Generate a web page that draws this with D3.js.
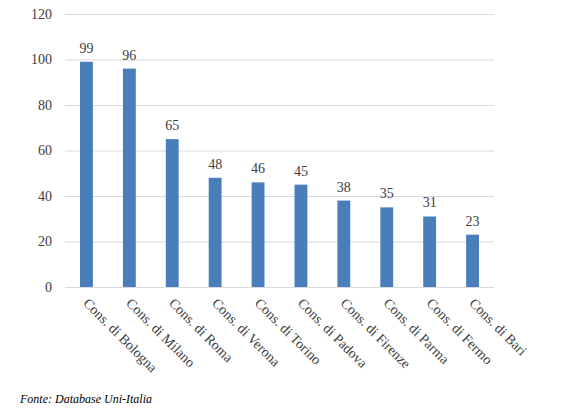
<!DOCTYPE html>
<html><head><meta charset="utf-8">
<script src="https://cdn.jsdelivr.net/npm/d3@7"></script>
<style>body{margin:0;background:#fff}svg{display:block}</style>
</head><body><svg id="c" width="586" height="413"></svg>
<script>
const categories = ["Cons. di Bologna","Cons. di Milano","Cons. di Roma","Cons. di Verona","Cons. di Torino","Cons. di Padova","Cons. di Firenze","Cons. di Parma","Cons. di Fermo","Cons. di Bari"];
const values = [99,96,65,48,46,45,38,35,31,23];
const yTicks = [0,20,40,60,80,100,120];
const source = "Fonte: Database Uni-Italia";

(function(){
const svg = d3.select("#c");
const FONT = "Liberation Serif, DejaVu Serif, serif";
const mLeft = 65, mRight = 494, mTop = 14, mBottom = 287;
const x = d3.scaleBand().domain(categories).range([mLeft, mRight]).paddingInner(0.7).paddingOuter(0.35);
const y = d3.scaleLinear().domain([0,120]).range([mBottom, mTop]);
const textCol = "#404040";

const yAxis = d3.axisLeft(y).tickValues(yTicks).tickSize(-(mRight-mLeft)).tickPadding(13);
const ga = svg.append("g").attr("transform",`translate(${mLeft},0)`).call(yAxis)
  .attr("font-family", FONT).attr("font-size", 14);
ga.select(".domain").remove();
ga.selectAll(".tick line").attr("stroke","#d9d9d9").attr("stroke-width",1);
ga.selectAll(".tick text").attr("fill",textCol);

svg.append("g").selectAll("rect").data(values).join("rect")
  .attr("x",(d,i)=>x(categories[i])).attr("width",x.bandwidth())
  .attr("y",d=>y(d)).attr("height",d=>y(0)-y(d)).attr("fill","#4a7ebb");

svg.append("g").attr("font-family", FONT).attr("font-size", 14)
  .selectAll("text").data(values).join("text")
  .attr("x",(d,i)=>x(categories[i])+x.bandwidth()/2).attr("y",d=>y(d)-9)
  .attr("text-anchor","middle").attr("fill",textCol).text(d=>d);

svg.append("g").attr("font-family", FONT).attr("font-size", 14)
  .selectAll("text").data(categories).join("text")
  .attr("transform",d=>`translate(${x(d)+x.bandwidth()/2-4},${mBottom+17}) rotate(45)`)
  .attr("text-anchor","start").attr("fill",textCol).text(d=>d);

svg.append("text").attr("x",20).attr("y",403).attr("fill","#000")
  .attr("font-family", FONT).attr("font-size", 12).attr("font-style","italic").text(source);
})();
</script></body></html>
